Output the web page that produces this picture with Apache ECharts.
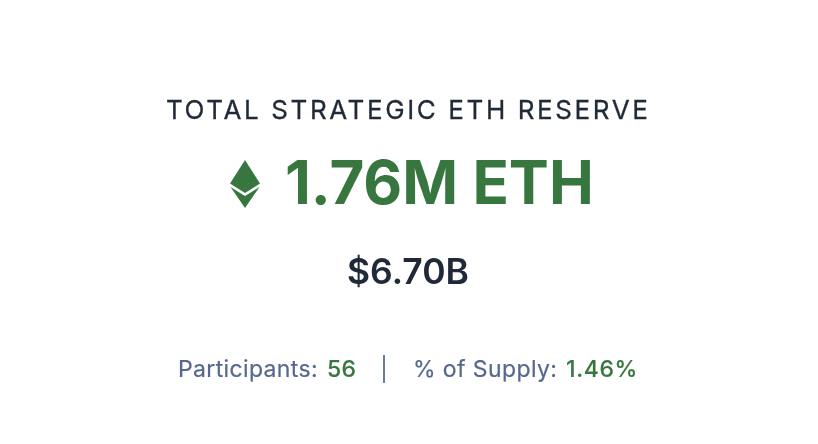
<!DOCTYPE html>
<html>
<head>
<meta charset="UTF-8">
<title>Total Strategic ETH Reserve</title>
<script src="https://cdn.jsdelivr.net/npm/echarts@6/dist/echarts.min.js"></script>
<style>html,body{margin:0;padding:0;background:#fff}</style>
</head>
<body>
<div id="main" style="width:818px;height:444px;"></div>
<script type="text/javascript">
var titleText = 'TOTAL STRATEGIC ETH RESERVE';
var ethText = '1.76M ETH';
var usdText = '$6.70B';
var participantsLabel = 'Participants:';
var participantsValue = '56';
var supplyLabel = '% of Supply:';
var supplyValue = '1.46%';

var green = '#37773f', dark = '#1f2937', slate = '#56688c';
var fontName = 'Inter';

var myChart = echarts.init(document.getElementById('main'));
var ctx = document.createElement('canvas').getContext('2d');

// zrender text has no letter spacing, so lay the string out one glyph at a time
function spaced(left, middle, str, size, weight, color, spacing, thicken) {
    var font = weight + ' ' + size + 'px ' + fontName;
    ctx.font = font;
    var out = [];
    for (var i = 0; i < str.length; i++) {
        var x = left + ctx.measureText(str.slice(0, i + 1)).width - ctx.measureText(str[i]).width + i * spacing;
        out.push({
            type: 'text', x: x, y: middle,
            style: {
                text: str[i], font: font, fill: color, textAlign: 'left', textVerticalAlign: 'middle',
                stroke: thicken ? color : null, lineWidth: thicken || 0
            }
        });
    }
    return out;
}

var option = {
    backgroundColor: '#fff',
    graphic: [].concat(
        spaced(166, 111, titleText, 26, 400, dark, 2.6, 0.3),
        [
            // eth logo
            { type: 'polygon', shape: { points: [[245,160],[260,183.5],[245,193],[230,183.5]] }, style: { fill: green } },
            { type: 'polygon', shape: { points: [[230.5,187],[245,196],[259.5,187],[245,208]] }, style: { fill: green } }
        ],
        spaced(285, 186, ethText, 60, 700, green, 0),
        spaced(347, 273.5, usdText, 35.5, 600, dark, 0),
        spaced(178, 370, participantsLabel, 23, 400, slate, 0.35, 0.2),
        spaced(327, 370, participantsValue, 23, 500, green, 0.35, 0.15),
        [{ type: 'rect', shape: { x: 383, y: 355, width: 2, height: 28 }, style: { fill: '#6a7b9c' } }],
        spaced(413, 370, supplyLabel, 23, 400, slate, 0.4, 0.2),
        spaced(566, 370, supplyValue, 23, 500, green, 0.6, 0.15)
    )
};
myChart.setOption(option);
</script>
</body>
</html>
